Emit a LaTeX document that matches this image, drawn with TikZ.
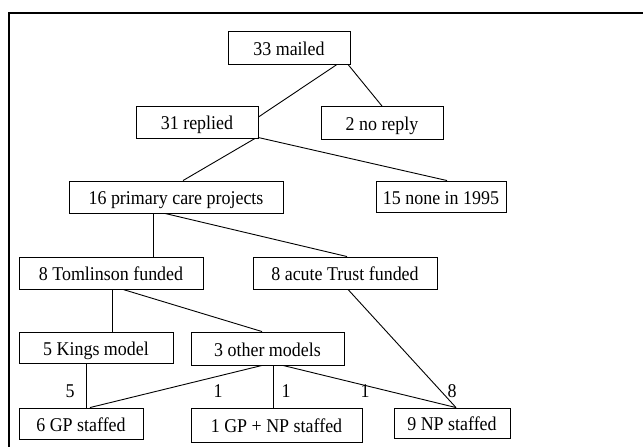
\documentclass[tikz,border=0pt]{standalone}
\usepackage{fontspec}
\usepackage{graphicx}
\setmainfont{Liberation Serif}
\newcommand\sqz[1]{\scalebox{0.92}[1]{#1}}
\begin{document}
\begin{tikzpicture}[x=1pt,y=-1pt,
  box/.style={draw,line width=0.9pt,inner sep=0pt,text height=15pt,text depth=0pt,font=\fontsize{19.5}{22}\selectfont},
  lbl/.style={inner sep=0pt,font=\fontsize{19.5}{22}\selectfont},
  conn/.style={line width=0.9pt}]
\useasboundingbox (0,0) rectangle (643,447);
\draw[line width=2.6pt] (9,447) -- (9,13) -- (643,13);
\node[box,minimum width=122pt,minimum height=33pt] (mailed) at (289,47.5) {\sqz{33 mailed}};
\node[box,minimum width=122pt,minimum height=32pt] (replied) at (197,122) {\sqz{31 replied}};
\node[box,minimum width=122pt,minimum height=33pt] (noreply) at (382,123) {\sqz{2 no reply}};
\node[box,minimum width=214pt,minimum height=32pt] (primary) at (176,197) {\sqz{16 primary care projects}};
\node[box,minimum width=130pt,minimum height=31pt] (none) at (441,196.5) {\sqz{15 none in 1995}};
\node[box,minimum width=184pt,minimum height=32pt] (tom) at (111,273) {\sqz{8 Tomlinson funded}};
\node[box,minimum width=184pt,minimum height=32pt] (acute) at (345,273) {\sqz{8 acute Trust funded}};
\node[box,minimum width=154pt,minimum height=31pt] (kings) at (96,347.5) {\sqz{5 Kings model}};
\node[box,minimum width=153pt,minimum height=33pt] (other) at (267.5,348.5) {\sqz{3 other models}};
\node[box,minimum width=124pt,minimum height=31pt] (gp) at (81,423.5) {\sqz{6 GP staffed}};
\node[box,minimum width=171pt,minimum height=34pt] (gpnp) at (276.5,425) {\sqz{1 GP + NP staffed}};
\node[box,minimum width=116pt,minimum height=30pt] (np) at (452,423) {\sqz{9 NP staffed}};
\draw[conn] ([xshift=48pt]mailed.south) -- ([yshift=5pt]replied.east);
\draw[conn] ([xshift=59pt]mailed.south) -- (noreply.north);
\draw[conn] ([xshift=58pt]replied.south) -- ([xshift=7pt]primary.north);
\draw[conn] ([xshift=61pt,yshift=1pt]replied.south) -- ([xshift=6pt]none.north);
\draw[conn] ([xshift=-23pt]primary.south) -- ([xshift=42pt]tom.north);
\draw[conn] ([xshift=-11pt]primary.south) -- ([xshift=2pt]acute.north);
\draw[conn] ([xshift=1pt]tom.south) -- ([xshift=16pt]kings.north);
\draw[conn] ([xshift=12pt]tom.south) -- ([xshift=-5.5pt]other.north);
\draw[conn] ([xshift=3pt]acute.south) -- ([xshift=4pt]np.north);
\draw[conn] ([xshift=-10pt]kings.south) -- ([xshift=5pt]gp.north);
\draw[conn] ([xshift=-5.5pt]other.south) -- ([xshift=9pt]gp.north);
\draw[conn] ([xshift=5.5pt]other.south) -- ([xshift=-3.5pt]gpnp.north);
\draw[conn] ([xshift=15.5pt]other.south) -- ([xshift=4pt]np.north);
\node[lbl] (l5) at (70,391) {\sqz{5}};
\node[lbl] (l1a) at (218,391) {\sqz{1}};
\node[lbl] (l1b) at (286,391) {\sqz{1}};
\node[lbl] (l1c) at (365,391) {\sqz{1}};
\node[lbl] (l8) at (452,391) {\sqz{8}};
\end{tikzpicture}
\end{document}
